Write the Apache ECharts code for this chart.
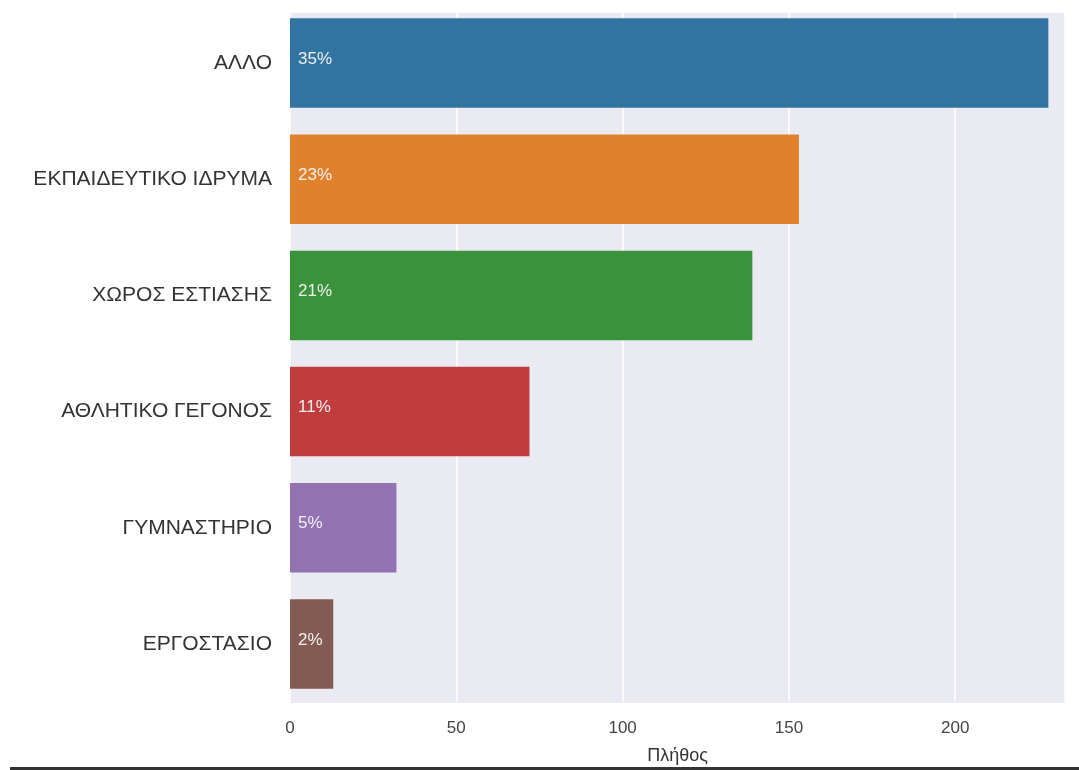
<!DOCTYPE html>
<html>
<head>
<meta charset="utf-8">
<script src="https://cdn.jsdelivr.net/npm/echarts@6/dist/echarts.min.js"></script>
<style>
html,body{margin:0;padding:0;background:#fff;}
#chart{width:1079px;height:770px;}
</style>
</head>
<body>
<div id="chart"></div>
<script>
const categories = ['ΑΛΛΟ', 'ΕΚΠΑΙΔΕΥΤΙΚΟ ΙΔΡΥΜΑ', 'ΧΩΡΟΣ ΕΣΤΙΑΣΗΣ', 'ΑΘΛΗΤΙΚΟ ΓΕΓΟΝΟΣ', 'ΓΥΜΝΑΣΤΗΡΙΟ', 'ΕΡΓΟΣΤΑΣΙΟ'];
const counts = [228, 153, 139, 72, 32, 13];
const percentLabels = ['35%', '23%', '21%', '11%', '5%', '2%'];
const barColors = ['#3274a1', '#e1812c', '#3a923a', '#c03d3e', '#9372b2', '#845b53'];
const xTicks = [0, 50, 100, 150, 200];

const chart = echarts.init(document.getElementById('chart'), null, {renderer: 'canvas'});
const font = '"Liberation Sans", Arial, sans-serif';

chart.setOption({
  animation: false,
  backgroundColor: '#ffffff',
  grid: {left: 290, right: 14, top: 5, bottom: 64, show: false},
  xAxis: {
    type: 'value',
    min: 0,
    max: 233,
    interval: 50,
    name: 'Πλήθος',
    nameLocation: 'middle',
    nameGap: 45,
    nameTextStyle: {fontFamily: font, fontSize: 18, color: '#333'},
    axisLine: {show: false},
    axisTick: {show: false},
    splitLine: {show: true, lineStyle: {color: '#ffffff', width: 1.5}},
    axisLabel: {
      fontFamily: font, fontSize: 17, color: '#444', margin: 18,
      showMaxLabel: false,
      formatter: v => xTicks.includes(v) ? String(v) : ''
    }
  },
  yAxis: {
    type: 'category',
    data: categories,
    inverse: true,
    axisLine: {show: false},
    axisTick: {show: false},
    splitLine: {show: false},
    axisLabel: {fontFamily: font, fontSize: 21, color: '#333', margin: 18}
  },
  series: [{
    type: 'bar',
    barCategoryGap: '23%',
    data: counts.map((v, i) => ({value: v, itemStyle: {color: barColors[i]}})),
    label: {
      show: true,
      position: 'insideLeft',
      offset: [0, -4],
      distance: 8,
      fontFamily: font,
      fontSize: 17,
      color: '#f0f0f0',
      formatter: p => percentLabels[p.dataIndex]
    }
  }],
  graphic: [{
    type: 'rect',
    z: -10,
    silent: true,
    shape: {x: 290, y: 13, width: 775, height: 690},
    style: {fill: '#eaeaf2'}
  }, {
    type: 'rect',
    shape: {x: 10, y: 767, width: 1069, height: 3},
    style: {fill: '#333'}
  }]
});
</script>
</body>
</html>
